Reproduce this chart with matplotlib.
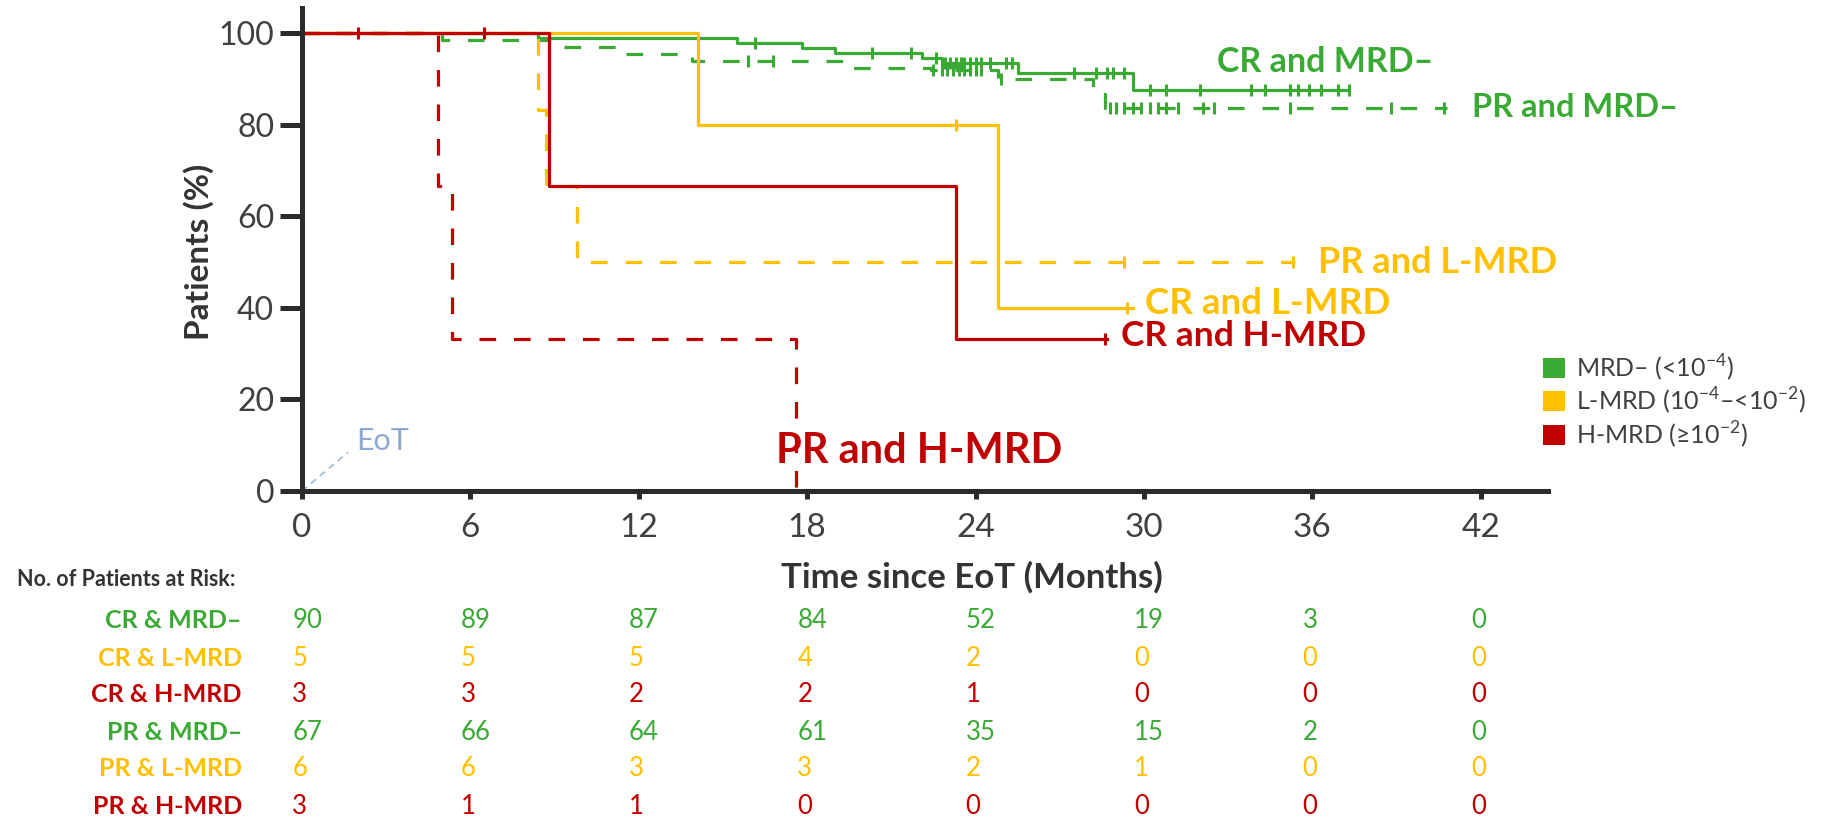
import numpy as np
import matplotlib
matplotlib.use("Agg")
import matplotlib.pyplot as plt
from matplotlib.patches import Rectangle
from matplotlib.transforms import blended_transform_factory

plt.rcParams['font.family'] = ['Lato', 'DejaVu Sans']
plt.rcParams['mathtext.fontset'] = 'custom'
plt.rcParams['mathtext.rm'] = 'Lato'
plt.rcParams['mathtext.bf'] = 'Lato:bold'

# colours
GREEN = '#3aaa35'
YELLOW = '#ffc000'
RED = '#c00000'
DARK = '#2b2b2b'
TEXT = '#404040'

# Kaplan-Meier curves (step times, survival %, end of follow-up, censor times)
cr_mrdneg_t = [0, 8.4, 15.5, 17.8, 19.0, 22.1, 22.8, 25.5, 29.6]
cr_mrdneg_s = [100, 98.9, 97.8, 96.7, 95.6, 94.5, 93.4, 91.2, 87.6]
cr_mrdneg_end = 37.3
cr_mrdneg_cens = [16.15, 20.3, 21.7, 22.6, 22.9, 23.1, 23.3, 23.5, 23.6, 23.8, 24.0, 24.2,
                  24.5, 25.1, 25.3, 27.5, 28.3, 28.7, 28.9, 29.3, 30.2, 30.8, 32.0, 33.8,
                  34.3, 35.2, 35.5, 35.9, 36.3, 36.9, 37.3]

pr_mrdneg_t = [0, 5.0, 8.8, 11.4, 13.9, 19.6, 22.4, 24.8, 28.2, 28.6]
pr_mrdneg_s = [100, 98.5, 97.0, 95.5, 94.0, 92.5, 91.9, 90.1, 86.8, 83.6]
pr_mrdneg_end = 40.8
pr_mrdneg_cens = [15.9, 16.8, 22.5, 22.8, 23.0, 23.2, 23.4, 23.6, 23.8, 24.0, 24.2, 24.9,
                  28.8, 29.0, 29.3, 29.6, 29.9, 30.2, 30.5, 30.8, 31.2, 32.1, 32.5, 35.2,
                  38.8, 40.7]

cr_lmrd_t = [0, 14.1, 24.8]
cr_lmrd_s = [100, 80, 40]
cr_lmrd_end = 29.6
cr_lmrd_cens = [23.3, 29.4]

pr_lmrd_t = [0, 8.4, 8.7, 9.8]
pr_lmrd_s = [100, 83.3, 66.7, 50]
pr_lmrd_end = 35.4
pr_lmrd_cens = [29.3, 35.3]

cr_hmrd_t = [0, 8.8, 23.3]
cr_hmrd_s = [100, 66.7, 33.3]
cr_hmrd_end = 28.7
cr_hmrd_cens = [2.0, 6.5, 28.6]

pr_hmrd_t = [0, 4.85, 5.35, 17.6]
pr_hmrd_s = [100, 66.7, 33.3, 0]
pr_hmrd_end = 17.6
pr_hmrd_cens = []

# numbers at risk
risk_times = [0, 6, 12, 18, 24, 30, 36, 42]
risk_labels = ['CR & MRD–', 'CR & L-MRD', 'CR & H-MRD', 'PR & MRD–', 'PR & L-MRD', 'PR & H-MRD']
risk_cr_mrdneg = [90, 89, 87, 84, 52, 19, 3, 0]
risk_cr_lmrd = [5, 5, 5, 4, 2, 0, 0, 0]
risk_cr_hmrd = [3, 3, 2, 2, 1, 0, 0, 0]
risk_pr_mrdneg = [67, 66, 64, 61, 35, 15, 2, 0]
risk_pr_lmrd = [6, 6, 3, 3, 2, 1, 0, 0]
risk_pr_hmrd = [3, 1, 1, 0, 0, 0, 0, 0]

legend_labels = ['MRD– (<10$^{-4}$)', 'L-MRD (10$^{-4}$–<10$^{-2}$)', 'H-MRD (≥10$^{-2}$)']

W, H = 1824, 819


def fx(px):
    return px / W


def fy(py):
    return 1 - py / H


def step_at(t, s, x):
    # value of the step function at time x
    idx = np.searchsorted(t, x, side='right') - 1
    return np.asarray(s)[idx]


def km(ax, t, s, end, cens, color, dashed):
    xs = list(t) + [end]
    ys = list(s) + [s[-1]]
    ls = (0, (5.2, 5.6)) if dashed else '-'
    ax.step(xs, ys, where='post', color=color, lw=2.3, linestyle=ls)
    if len(cens):
        ax.plot(cens, step_at(t, s, cens), linestyle='none', marker='|',
                ms=9, mew=2.2, color=color)


fig = plt.figure(figsize=(W / 100, H / 100), dpi=100)
ax = fig.add_axes([fx(302), fy(491), fx(1548 - 302), (491 - 8) / H])

km(ax, pr_mrdneg_t, pr_mrdneg_s, pr_mrdneg_end, pr_mrdneg_cens, GREEN, True)
km(ax, cr_mrdneg_t, cr_mrdneg_s, cr_mrdneg_end, cr_mrdneg_cens, GREEN, False)
km(ax, pr_lmrd_t, pr_lmrd_s, pr_lmrd_end, pr_lmrd_cens, YELLOW, True)
km(ax, cr_lmrd_t, cr_lmrd_s, cr_lmrd_end, cr_lmrd_cens, YELLOW, False)
km(ax, pr_hmrd_t, pr_hmrd_s, pr_hmrd_end, pr_hmrd_cens, RED, True)
km(ax, cr_hmrd_t, cr_hmrd_s, cr_hmrd_end, cr_hmrd_cens, RED, False)

ax.set_xlim(0, 44.4)
ax.set_ylim(0, 105.5)
ax.set_xticks(risk_times)
ax.set_yticks([0, 20, 40, 60, 80, 100])
for side in ['top', 'right']:
    ax.spines[side].set_visible(False)
for side in ['left', 'bottom']:
    ax.spines[side].set_linewidth(3.6)
    ax.spines[side].set_color(DARK)
    ax.spines[side].set_zorder(5)
ax.tick_params(axis='y', length=16, width=3.6, color=DARK, labelsize=23, labelcolor=TEXT, pad=4)
ax.tick_params(axis='x', length=6, width=3.6, color=DARK, labelsize=24, labelcolor=TEXT, pad=10)
ax.patch.set_visible(False)

# curve labels
lab = dict(fontweight='bold', va='center', ha='left')
ax.text(32.6, 93.6, 'CR and MRD–', color=GREEN, fontsize=24.5, **lab)
ax.text(41.7, 83.8, 'PR and MRD–', color=GREEN, fontsize=23.5, **lab)
ax.text(36.2, 50.0, 'PR and L-MRD', color=YELLOW, fontsize=26, **lab)
ax.text(30.05, 41.0, 'CR and L-MRD', color=YELLOW, fontsize=26.5, **lab)
ax.text(29.2, 33.8, 'CR and H-MRD', color=RED, fontsize=25.5, **lab)
ax.text(16.9, 8.7, 'PR and H-MRD', color=RED, fontsize=30, **lab)

# end of treatment marker
ax.plot([0, 1.65], [0, 8.5], color='#9db8d9', lw=1.2, linestyle=(0, (4, 3)))
ax.text(1.95, 11, 'EoT', color='#8eaad0', fontsize=22, va='center', ha='left')

# axis titles
fig.text(fx(972), fy(577), 'Time since EoT (Months)', fontsize=25, fontweight='bold',
         color='#333333', ha='center', va='center')
fig.text(fx(199), fy(252), 'Patients (%)', fontsize=24, fontweight='bold',
         color='#333333', ha='center', va='center', rotation=90)

# legend
leg_colors = [GREEN, YELLOW, RED]
leg_y = [368, 401, 435]
for c, lbl, y in zip(leg_colors, legend_labels, leg_y):
    fig.add_artist(Rectangle((fx(1543), fy(y + 10)), 22 / W, 20 / H, transform=fig.transFigure,
                             facecolor=c, edgecolor='none'))
    fig.text(fx(1576), fy(y), lbl, fontsize=18, color=TEXT, ha='left', va='center')

# numbers at risk table
fig.text(fx(17), fy(580), 'No. of Patients at Risk:', fontsize=15.5, fontweight='bold',
         color='#333333', ha='left', va='center')
tr = blended_transform_factory(ax.transData, fig.transFigure)
risk_rows = [risk_cr_mrdneg, risk_cr_lmrd, risk_cr_hmrd, risk_pr_mrdneg, risk_pr_lmrd, risk_pr_hmrd]
row_colors = [GREEN, YELLOW, RED, GREEN, YELLOW, RED]
row_y = [620, 658, 695, 733, 769, 807]
for name, vals, c, y in zip(risk_labels, risk_rows, row_colors, row_y):
    fig.text(fx(242), fy(y), name, fontsize=18, fontweight='bold', color=c,
             ha='right', va='center')
    for t, v in zip(risk_times, vals):
        ax.text(t - 0.35, fy(y), str(v), transform=tr, fontsize=18.5, color=c,
                ha='left', va='center', clip_on=False)

fig.savefig('out.png', dpi=100)
